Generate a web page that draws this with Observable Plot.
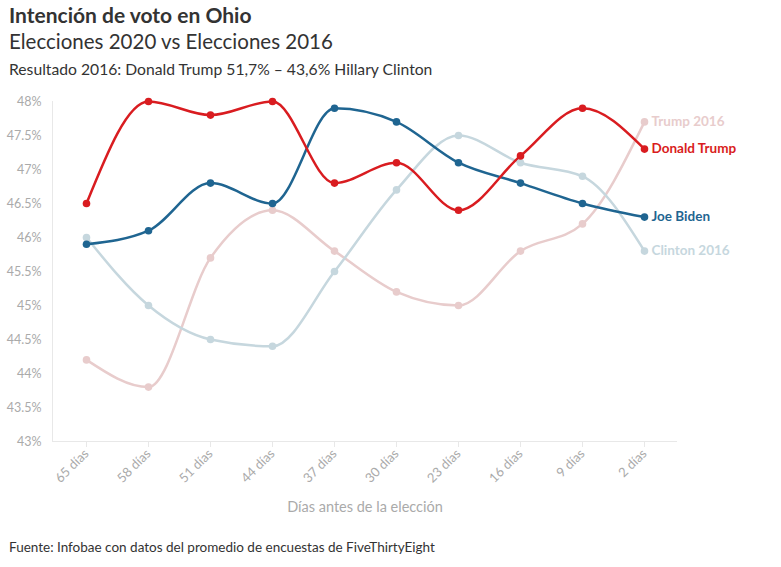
<!DOCTYPE html>
<html><head><meta charset="utf-8">
<script src="https://cdn.jsdelivr.net/npm/d3@7"></script>
<script src="https://cdn.jsdelivr.net/npm/@observablehq/plot@0.6"></script>
<style>
body{margin:0;background:#fff;font-family:Lato,"Noto Sans",sans-serif;color:#333;}
#wrap{width:781px;padding:0;}
h1{font-size:21px;font-weight:700;margin:0;padding:3px 0 0 9px;line-height:24px;color:#333;}
h2{font-size:20.5px;font-weight:400;margin:0;padding:2px 0 0 9px;line-height:24px;color:#333;}
.sub{font-size:15.7px;margin:0;padding:6px 0 0 9px;line-height:20px;color:#333;}
.cap{font-size:13.5px;margin:0;padding:21px 0 0 9px;color:#333;}
#chart{padding-top:4px;}
</style></head>
<body><div id="wrap">
<h1>Intención de voto en Ohio</h1>
<h2>Elecciones 2020 vs Elecciones 2016</h2>
<p class="sub">Resultado 2016: Donald Trump 51,7% – 43,6% Hillary Clinton</p>
<div id="chart"></div>
<p class="cap">Fuente: Infobae con datos del promedio de encuestas de FiveThirtyEight</p>
</div>
<script>
const days = ["65 días","58 días","51 días","44 días","37 días","30 días","23 días","16 días","9 días","2 días"];
const trump2020 = [46.5,48.0,47.8,48.0,46.8,47.1,46.4,47.2,47.9,47.3];
const biden2020 = [45.9,46.1,46.8,46.5,47.9,47.7,47.1,46.8,46.5,46.3];
const trump2016 = [44.2,43.8,45.7,46.4,45.8,45.2,45.0,45.8,46.2,47.7];
const clinton2016 = [46.0,45.0,44.5,44.4,45.5,46.7,47.5,47.1,46.9,45.8];
const seriesNames = ["Trump 2016","Clinton 2016","Joe Biden","Donald Trump"];
const seriesValues = [trump2016, clinton2016, biden2020, trump2020];
const seriesColors = ["#e8cccc","#c6d7de","#1f6591","#d91c20"];
const yTicks = [43,43.5,44,44.5,45,45.5,46,46.5,47,47.5,48];

const data = seriesNames.flatMap((s,i)=>seriesValues[i].map((v,j)=>({serie:s,day:days[j],value:v})));
const last = data.filter(d=>d.day===days[days.length-1]);

const chart = Plot.plot({
  width:781, height:435,
  marginLeft:52, marginRight:104, marginTop:18, marginBottom:77,
  style:{fontFamily:"Lato, 'Noto Sans', sans-serif", fontSize:"12px", color:"#aaa"},
  x:{type:"point", domain:days, padding:0.5},
  y:{domain:[43,48]},
  color:{domain:seriesNames, range:seriesColors},
  marks:[
    Plot.gridY(yTicks,{stroke:"#e8e8e8", strokeOpacity:1, x1:50, x2:677}),
    Plot.frame({anchor:"left", stroke:"#e8e8e8", strokeOpacity:1}),
    Plot.axisY({ticks:yTicks, tickFormat:d=>d+"%", tickSize:0, tickPadding:11, label:null, fill:"#aaa", fontSize:12.5}),
    Plot.axisX({tickRotate:-45, tickSize:6, stroke:"#e8e8e8", tickPadding:4, fill:"#aaa", fontSize:13,
      label:null}),
    Plot.axisX({ticks:[], tickSize:0, label:"Días antes de la elección", labelAnchor:"center", labelArrow:"none", labelOffset:70, fill:"#aaa", fontSize:14.5}),
    Plot.ruleY([43],{stroke:"#e8e8e8"}),
    Plot.line(data,{x:"day", y:"value", z:"serie", stroke:"serie", strokeWidth:2.5, curve:"monotone-x"}),
    Plot.dot(data,{x:"day", y:"value", fill:"serie", r:3.8}),
    Plot.text(last,{x:"day", y:"value", text:"serie", fill:"serie", textAnchor:"start", dx:7, fontWeight:"bold", fontSize:13.5})
  ]
});
document.getElementById("chart").appendChild(chart);
</script>
</body></html>
